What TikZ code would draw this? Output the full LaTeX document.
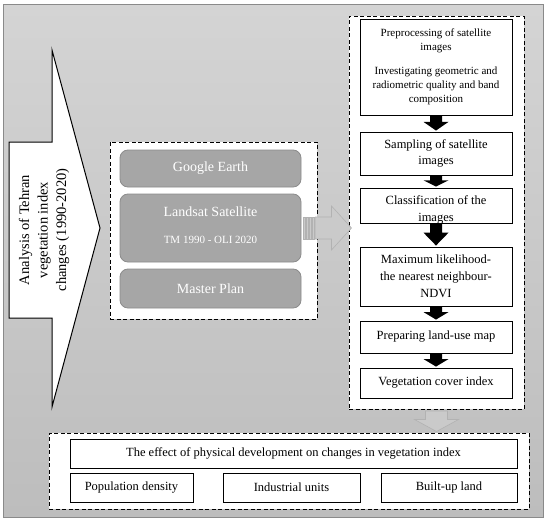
\documentclass[tikz,border=0pt]{standalone}
\usepackage{fontspec}
\setmainfont{Liberation Serif}
\usetikzlibrary{calc}
\definecolor{gbfill}{HTML}{A6A6A6}
\definecolor{gbdraw}{HTML}{8C8C8C}
\definecolor{arrfill}{HTML}{CACACA}
\definecolor{arrdraw}{HTML}{B2B2B2}
\definecolor{bgtop}{HTML}{D4D4D4}
\definecolor{bgbot}{HTML}{BDBDBD}
\definecolor{framec}{HTML}{8A8A8A}
\newcommand\blkarrow[2]{%
  \fill let \p1=(#1.south), \p2=(#2.north), \p3=($(#1.south)!0.4!(#2.north)$) in
    ({\x1-6pt},\y1) -- ({\x1+6pt},\y1) -- ({\x1+6pt},\y3) -- ({\x1+12.5pt},\y3)
    -- (\x1,{\y2+1pt}) -- ({\x1-12.5pt},\y3) -- ({\x1-6pt},\y3) -- cycle;}
\begin{document}
\begin{tikzpicture}[x=1pt,y=-1pt,
  wbox/.style={draw=black, line width=0.9pt, fill=white, inner sep=0pt, align=center,
    minimum width=152pt, font=\fontsize{12.5}{16.5}\selectfont},
  bwbox/.style={draw=black, line width=0.9pt, fill=white, inner sep=0pt, align=center,
    minimum height=29pt, font=\fontsize{12.5}{15}\selectfont},
  dbox/.style={draw=black, line width=1pt, dash pattern=on 4pt off 2.5pt, fill=white, inner sep=0pt},
  gbox/.style={draw=gbdraw, line width=0.8pt, fill=gbfill, rounded corners=8pt, text=white,
    inner sep=0pt, align=center, minimum width=181pt, font=\fontsize{14}{16}\selectfont},
  gtext/.style={text=white, inner sep=0pt},
  garrow/.style={fill=arrfill, draw=arrdraw, line width=0.6pt},
]
\useasboundingbox (0,0) rectangle (550,522);
% background frame
\draw[draw=framec, line width=0.8pt, top color=bgtop, bottom color=bgbot] (3,4) rectangle (543,517);

% left callout
\draw[fill=white, line width=1pt, line join=miter]
  (9,142) -- (52,142) -- (52,50) -- (100,228) -- (52,407) -- (52,318) -- (9,318) -- cycle;
\node[rotate=90, align=center, inner sep=0pt, font=\fontsize{14.5}{18.5}\selectfont] (title) at (44,230)
  {Analysis of Tehran\\vegetation index\\changes (1990-2020)};

% middle data box
\node[dbox, minimum width=207pt, minimum height=177pt] (mbox) at (213.5,230.5) {};
\node[gbox, minimum height=37pt] (google) at (210.5,168.5) {Google Earth};
\node[gbox, minimum height=68pt] (landsat) at (210.5,228) {};
\node[gtext, font=\fontsize{14}{16}\selectfont] (lsat1) at (210.5,212) {Landsat Satellite};
\node[gtext, font=\fontsize{11}{13}\selectfont] (lsat2) at (210.5,240) {TM 1990 - OLI 2020};
\node[gbox, minimum height=39pt] (master) at (210.5,288.5) {Master Plan};

% right process box
\node[dbox, minimum width=175pt, minimum height=393pt] (rbox) at (436.5,212.5) {};
\node[wbox, minimum height=96pt, font=\fontsize{11}{14}\selectfont] (b1) at (436,67)
  {Preprocessing of satellite\\images\\[10pt]Investigating geometric and\\radiometric quality and band\\composition};
\node[wbox, minimum height=43pt] (b2) at (436,153.5) {Sampling of satellite\\images};
\node[wbox, minimum height=35pt] (b3) at (436,205.5) {};
\node[inner sep=0pt, align=center, font=\fontsize{12.5}{16.5}\selectfont] (b3t) at (436,210) {Classification of the\\images};
\node[wbox, minimum height=59pt, font=\fontsize{12.5}{17}\selectfont] (b4) at (436,276.5)
  {Maximum likelihood-\\the nearest neighbour-\\NDVI};
\node[wbox, minimum height=32pt] (b5) at (436,337) {Preparing land-use map};
\node[wbox, minimum height=30pt] (b6) at (436,383) {Vegetation cover index};
\blkarrow{b1}{b2}
\blkarrow{b2}{b3}
\blkarrow{b3}{b4}
\blkarrow{b4}{b5}
\blkarrow{b5}{b6}

% bottom box
\node[dbox, minimum width=480pt, minimum height=76pt] (bbox) at (289,471) {};
\node[bwbox, minimum width=447pt] (effect) at (293.5,453.5)
  {The effect of physical development on changes in vegetation index};
\node[bwbox, minimum width=123pt] (pop) at (131.5,487.5) {Population density};
\node[bwbox, minimum width=137pt] (ind) at (291.5,487.5) {Industrial units};
\node[bwbox, minimum width=136pt] (built) at (449,487.5) {Built-up land};

% gray arrow to the right
\filldraw[garrow] let \p1=(landsat.east), \p2=(rbox.west) in
  ({\x1+14pt},{\y1+11pt}) -- ({\x2-17pt},{\y1+11pt}) -- ({\x2-17pt},{\y1+22pt})
  -- ({\x2+3pt},\y1) -- ({\x2-17pt},{\y1-22pt}) -- ({\x2-17pt},{\y1-11pt})
  -- ({\x1+14pt},{\y1-11pt}) -- cycle;
\foreach \dx in {2,5,8,11} {
  \filldraw[garrow, line width=0.4pt] let \p1=(landsat.east) in
    ({\x1+\dx pt},{\y1+11pt}) rectangle ({\x1+\dx pt+2pt},{\y1-11pt});
}
% gray arrow down
\filldraw[garrow] let \p1=(rbox.south), \p2=(bbox.north) in
  ({\x1-11pt},{\y1-1.5pt}) -- ({\x1+11pt},{\y1-1.5pt}) -- ({\x1+11pt},{\y2+13pt})
  -- ({\x1+22pt},{\y2+13pt}) -- (\x1,{\y2+1pt}) -- ({\x1-22pt},{\y2+13pt})
  -- ({\x1-11pt},{\y2+13pt}) -- cycle;
\end{tikzpicture}
\end{document}
